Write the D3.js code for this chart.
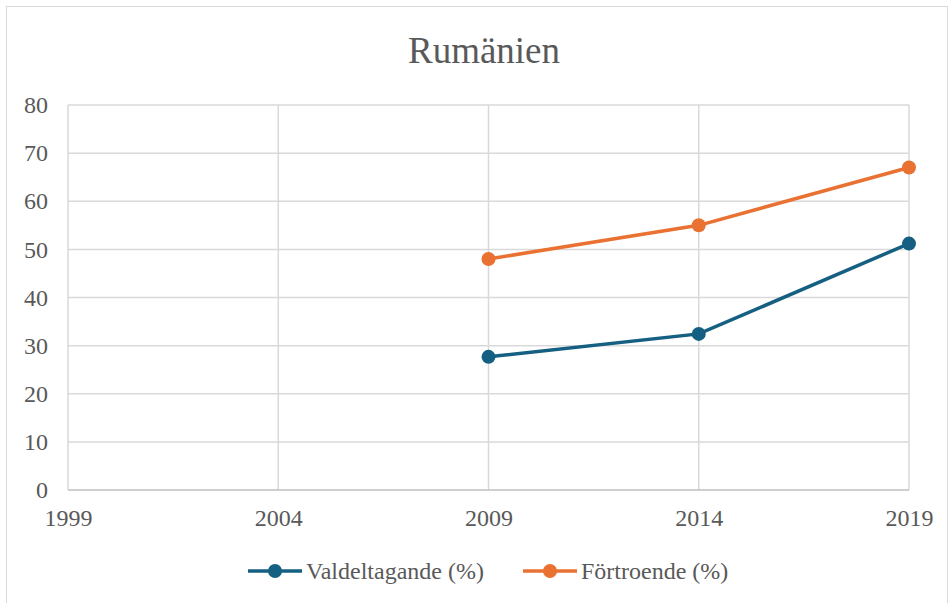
<!DOCTYPE html>
<html>
<head>
<meta charset="utf-8">
<script src="https://cdn.jsdelivr.net/npm/d3@7"></script>
<style>
  body { margin: 0; background: #fff; }
  svg text { font-family: 'Liberation Serif', 'Times New Roman', Times, serif; fill: #595959; }
</style>
</head>
<body>
<div id="chart"></div>
<script>
// data
const years = [2009, 2014, 2019]
const valdeltagande = [27.67, 32.44, 51.2]
const fortroende = [48, 55, 67]
const xTicks = [1999, 2004, 2009, 2014, 2019]
const yTicks = [0, 10, 20, 30, 40, 50, 60, 70, 80]
const seriesNames = ['Valdeltagande (%)', 'Förtroende (%)']
const colors = ['#156082', '#E97132']

const FONT = "'Liberation Serif', 'Times New Roman', Times, serif"
const W = 949, H = 603
const margin = {top: 105, right: 40, bottom: 113, left: 68}
const width = W - margin.left - margin.right
const height = H - margin.top - margin.bottom

const svg = d3.select('#chart').append('svg')
  .attr('width', W)
  .attr('height', H)
  .attr('font-family', FONT)

// outer frame
svg.append('rect')
  .attr('x', 6.5).attr('y', 6.5)
  .attr('width', W - 8).attr('height', H - 6)
  .attr('fill', 'none')
  .attr('stroke', '#d9d9d9')

svg.append('text')
  .attr('x', 484)
  .attr('y', 63)
  .attr('text-anchor', 'middle')
  .attr('font-family', FONT)
  .style('font-size', '37px')
  .text('Rumänien')

const g = svg.append('g')
  .attr('transform', 'translate(' + margin.left + ',' + margin.top + ')')

const x = d3.scaleLinear().domain([1999, 2019]).range([0, width])
const y = d3.scaleLinear().domain([0, 80]).range([height, 0])

// horizontal gridlines
g.append('g')
  .selectAll('line')
  .data(yTicks.filter(d => d > 0))
  .join('line')
  .attr('x1', 0).attr('x2', width)
  .attr('y1', d => y(d)).attr('y2', d => y(d))
  .attr('stroke', '#d9d9d9')
  .attr('stroke-width', 1.5)

// vertical gridlines
g.append('g')
  .selectAll('line')
  .data(xTicks)
  .join('line')
  .attr('x1', d => x(d)).attr('x2', d => x(d))
  .attr('y1', 0).attr('y2', height)
  .attr('stroke', '#d9d9d9')
  .attr('stroke-width', 1.5)

// base line
g.append('line')
  .attr('x1', 0).attr('x2', width)
  .attr('y1', y(0)).attr('y2', y(0))
  .attr('stroke', '#bfbfbf')
  .attr('stroke-width', 1.5)

// y axis labels
const yAxis = g.append('g')
  .attr('transform', 'translate(-20,0)')
  .call(d3.axisLeft(y).tickValues(yTicks).tickSize(0).tickPadding(0))
yAxis.attr('font-family', FONT)
yAxis.select('.domain').remove()
yAxis.selectAll('text').style('font-size', '24px').style('fill', '#595959')

// x axis labels
const xAxis = g.append('g')
  .attr('transform', 'translate(0,' + height + ')')
  .call(d3.axisBottom(x).tickValues(xTicks).tickFormat(d3.format('d')).tickSize(0).tickPadding(19))
xAxis.attr('font-family', FONT)
xAxis.select('.domain').remove()
xAxis.selectAll('text').style('font-size', '24px').style('fill', '#595959')

const line = d3.line()
  .x(d => x(d[0]))
  .y(d => y(d[1]))

const series = [valdeltagande, fortroende]
series.forEach(function(vals, i) {
  const pts = years.map((yr, j) => [yr, vals[j]])
  g.append('path')
    .datum(pts)
    .attr('fill', 'none')
    .attr('stroke', colors[i])
    .attr('stroke-width', 3.5)
    .attr('d', line)
  g.selectAll(null)
    .data(pts)
    .join('circle')
    .attr('cx', d => x(d[0]))
    .attr('cy', d => y(d[1]))
    .attr('r', 7)
    .attr('fill', colors[i])
})

// legend
const legendX = [248, 523]
const legend = svg.append('g').attr('transform', 'translate(0,571)')
seriesNames.forEach(function(name, i) {
  const lg = legend.append('g').attr('transform', 'translate(' + legendX[i] + ',0)')
  lg.append('line')
    .attr('x1', 0).attr('x2', 54)
    .attr('stroke', colors[i])
    .attr('stroke-width', 3.5)
  lg.append('circle')
    .attr('cx', 27).attr('r', 7)
    .attr('fill', colors[i])
  lg.append('text')
    .attr('x', 58)
    .attr('y', 8)
    .attr('font-family', FONT)
    .style('font-size', '24px')
    .text(name)
})
</script>
</body>
</html>
